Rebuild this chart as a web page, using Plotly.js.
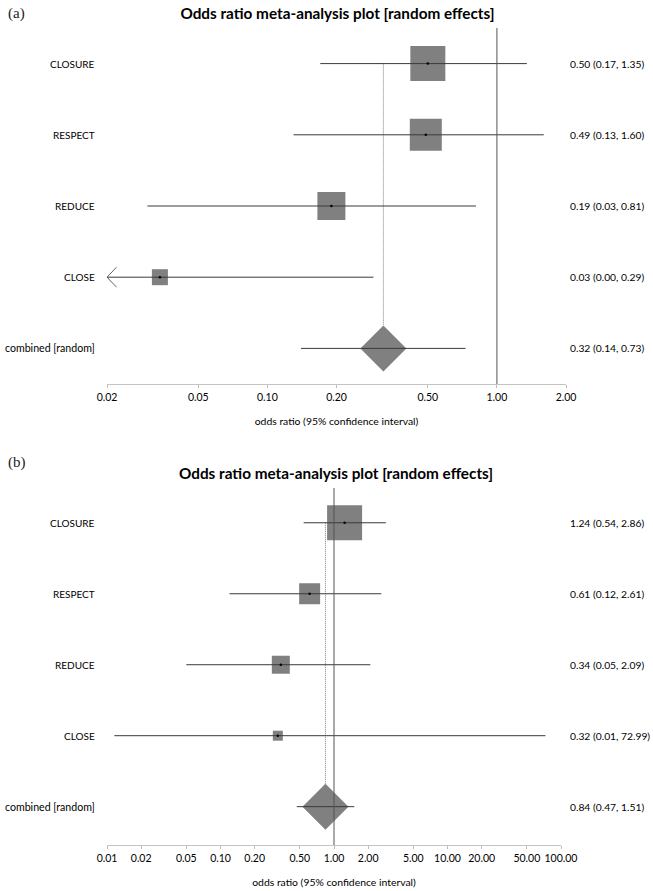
<!DOCTYPE html>
<html><head><meta charset="utf-8">
<script src="https://cdn.plot.ly/plotly-3.0.1.min.js"></script>
<style>html,body{margin:0;padding:0;background:#fff}#chart{width:653px;height:891px}</style>
</head><body><div id="chart"></div>
<script>
// ---------------- DATA ----------------
const studies = ['CLOSURE', 'RESPECT', 'REDUCE', 'CLOSE'];
const pooledLabel = 'combined [random]';
const panelTitle = 'Odds ratio meta-analysis plot [random effects]';
const xTitle = 'odds ratio (95% confidence interval)';
const panelTags = ['(a)', '(b)'];

// panel (a)
const orA = [0.50, 0.49, 0.19, 0.034];
const loA = [0.17, 0.13, 0.03, 0.004];
const hiA = [1.35, 1.60, 0.81, 0.29];
const pooledA = [0.32, 0.14, 0.73];           // estimate, lower, upper
const ticksA = [0.02, 0.05, 0.10, 0.20, 0.50, 1.00, 2.00];

// panel (b)
const orB = [1.24, 0.61, 0.34, 0.32];
const loB = [0.54, 0.12, 0.05, 0.0116];
const hiB = [2.86, 2.61, 2.09, 72.99];
const pooledB = [0.84, 0.47, 1.51];
const ticksB = [0.01, 0.02, 0.05, 0.10, 0.20, 0.50, 1.00, 2.00, 5.00, 10.00, 20.00, 50.00, 100.00];

const nullValue = 1.00;

// ---------------- STYLE / LAYOUT ----------------
const W = 653, H = 891;
const FONT = 'Lato, "Open Sans", sans-serif';
const TXT = '#000';
const BOX = '#808080';
const LINE = '#3a3a3a';
const boxSizeA = [35, 32, 28, 16];
const boxSizeB = [35, 21, 18, 10];
const DIAMOND_PX = 46;   // full diagonal in px
const panels = [
  {id: '', or: orA, lo: loA, hi: hiA, pooled: pooledA, ticks: ticksA, boxes: boxSizeA,
   xL: 107, xR: 566, yT: 28, yB: 384, yr: [0.5, 5.5], titleY: 13.3, titleX: 337.5, tagY: 13},
  {id: '2', or: orB, lo: loB, hi: hiB, pooled: pooledB, ticks: ticksB, boxes: boxSizeB,
   xL: 107, xR: 561, yT: 488, yB: 845, yr: [0.46, 5.49], titleY: 473, titleX: 335.5, tagY: 463}
];

const rows = [5, 4, 3, 2];
const pooledRow = 1;
const fmt = v => v.toFixed(2);

const traces = [];
const shapes = [];
const annotations = [];
const layout = {
  width: W, height: H,
  margin: {l: 0, r: 0, t: 0, b: 0},
  paper_bgcolor: '#fff', plot_bgcolor: '#fff',
  showlegend: false,
  font: {family: FONT, color: TXT},
  title: {text: panelTitle, font: {family: FONT, size: 15.3, weight: 700, color: TXT},
          xref: 'paper', yref: 'paper', x: panels[0].titleX / W, xanchor: 'center',
          y: 1 - panels[0].titleY / H, yanchor: 'middle'}
};

panels.forEach((p, pi) => {
  const xa = 'x' + p.id, ya = 'y' + p.id;
  const xmin = p.ticks[0], xmax = p.ticks[p.ticks.length - 1];
  const pxPerDec = (p.xR - p.xL) / (Math.log10(xmax) - Math.log10(xmin));
  const pxPerUnit = (p.yB - p.yT) / (p.yr[1] - p.yr[0]);

  // study boxes (under lines)
  traces.push({type: 'scatter', mode: 'markers', xaxis: xa, yaxis: ya, x: p.or, y: rows,
    marker: {symbol: 'square', size: p.boxes, color: BOX, opacity: 1, line: {width: 0}}, hoverinfo: 'skip'});

  // pooled diamond
  traces.push({type: 'scatter', mode: 'markers', xaxis: xa, yaxis: ya, x: [p.pooled[0]], y: [pooledRow],
    marker: {symbol: 'diamond', size: DIAMOND_PX / 1.3, color: BOX, opacity: 1, line: {width: 0}}, hoverinfo: 'skip'});

  // dotted line at pooled estimate from first study down to top of diamond
  const dTop = pooledRow + (DIAMOND_PX / 2) / pxPerUnit;
  traces.push({type: 'scatter', mode: 'lines', xaxis: xa, yaxis: ya,
    x: [p.pooled[0], p.pooled[0]], y: [rows[0], dTop],
    line: {color: '#7a7a7a', width: 1, dash: '1px,1px'}, hoverinfo: 'skip'});

  // confidence interval lines
  const cx = [], cy = [];
  p.lo.forEach((lo, i) => { cx.push(lo, p.hi[i], null); cy.push(rows[i], rows[i], null); });
  cx.push(p.pooled[1], p.pooled[2], null); cy.push(pooledRow, pooledRow, null);
  traces.push({type: 'scatter', mode: 'lines', xaxis: xa, yaxis: ya, x: cx, y: cy,
    line: {color: LINE, width: 1}, hoverinfo: 'skip'});

  // arrows where CI runs off the axis
  const ax = [], ay = [];
  p.lo.forEach((lo, i) => {
    if (lo < xmin) {
      const xArm = xmin * Math.pow(10, 9.5 / pxPerDec);
      const dy = 10 / pxPerUnit;
      ax.push(xArm, xmin, xArm, null); ay.push(rows[i] + dy, rows[i], rows[i] - dy, null);
    }
  });
  if (ax.length) traces.push({type: 'scatter', mode: 'lines', xaxis: xa, yaxis: ya, x: ax, y: ay,
    line: {color: '#606060', width: 1}, hoverinfo: 'skip'});

  // centre dots
  traces.push({type: 'scatter', mode: 'markers', xaxis: xa, yaxis: ya, x: p.or, y: rows,
    marker: {symbol: 'circle', size: 2.5, color: '#000', opacity: 1}, hoverinfo: 'skip'});

  // axes
  layout['xaxis' + p.id] = {
    type: 'log', anchor: ya, domain: [p.xL / W, p.xR / W],
    range: [Math.log10(xmin), Math.log10(xmax)],
    tickmode: 'array', tickvals: p.ticks, ticktext: p.ticks.map(fmt),
    ticks: 'outside', ticklen: 3, tickcolor: '#bdbdbd', tickwidth: 1,
    showline: true, linecolor: '#c4c4c4', linewidth: 1,
    showgrid: false, zeroline: false, fixedrange: true,
    tickfont: {family: FONT, size: 10.5, color: TXT},
    title: {text: xTitle, font: {family: FONT, size: 10.4, color: TXT}, standoff: 16}
  };
  layout['yaxis' + p.id] = {
    anchor: xa, domain: [1 - p.yB / H, 1 - p.yT / H], range: p.yr,
    visible: false, showgrid: false, zeroline: false, fixedrange: true
  };

  // null line
  shapes.push({type: 'line', xref: xa, yref: ya + ' domain', x0: nullValue, x1: nullValue, y0: 0, y1: 1,
    line: {color: '#555', width: 1}, layer: 'above'});

  // labels
  const labs = studies.concat([pooledLabel]);
  const est = p.or.concat([p.pooled[0]]);
  const los = p.lo.concat([p.pooled[1]]);
  const his = p.hi.concat([p.pooled[2]]);
  const ys = rows.concat([pooledRow]);
  labs.forEach((t, i) => {
    annotations.push({text: t, xref: 'paper', yref: ya, x: 97 / W, y: ys[i], xanchor: 'right', yanchor: 'middle',
      showarrow: false, font: {family: FONT, size: i === 4 ? 10.6 : 10, color: TXT}});
    annotations.push({text: fmt(est[i]) + ' (' + fmt(los[i]) + ', ' + fmt(his[i]) + ')',
      xref: 'paper', yref: ya, x: 568 / W, y: ys[i], xanchor: 'left', yanchor: 'middle',
      showarrow: false, font: {family: FONT, size: 10.3, color: TXT}});
  });

  annotations.push({text: panelTags[pi], xref: 'paper', yref: 'paper', x: 6 / W, y: 1 - p.tagY / H,
    xanchor: 'left', yanchor: 'middle', showarrow: false,
    font: {family: '"Liberation Serif", "DejaVu Serif", serif', size: 15, color: '#222'}});
  if (pi > 0) {
    annotations.push({text: panelTitle, xref: 'paper', yref: 'paper', x: p.titleX / W, y: 1 - p.titleY / H,
      xanchor: 'center', yanchor: 'middle', showarrow: false,
      font: {family: FONT, size: 15.3, weight: 700, color: TXT}});
  }
});

layout.shapes = shapes;
layout.annotations = annotations;

Plotly.newPlot('chart', traces, layout, {staticPlot: true, displayModeBar: false});
</script>
</body></html>
